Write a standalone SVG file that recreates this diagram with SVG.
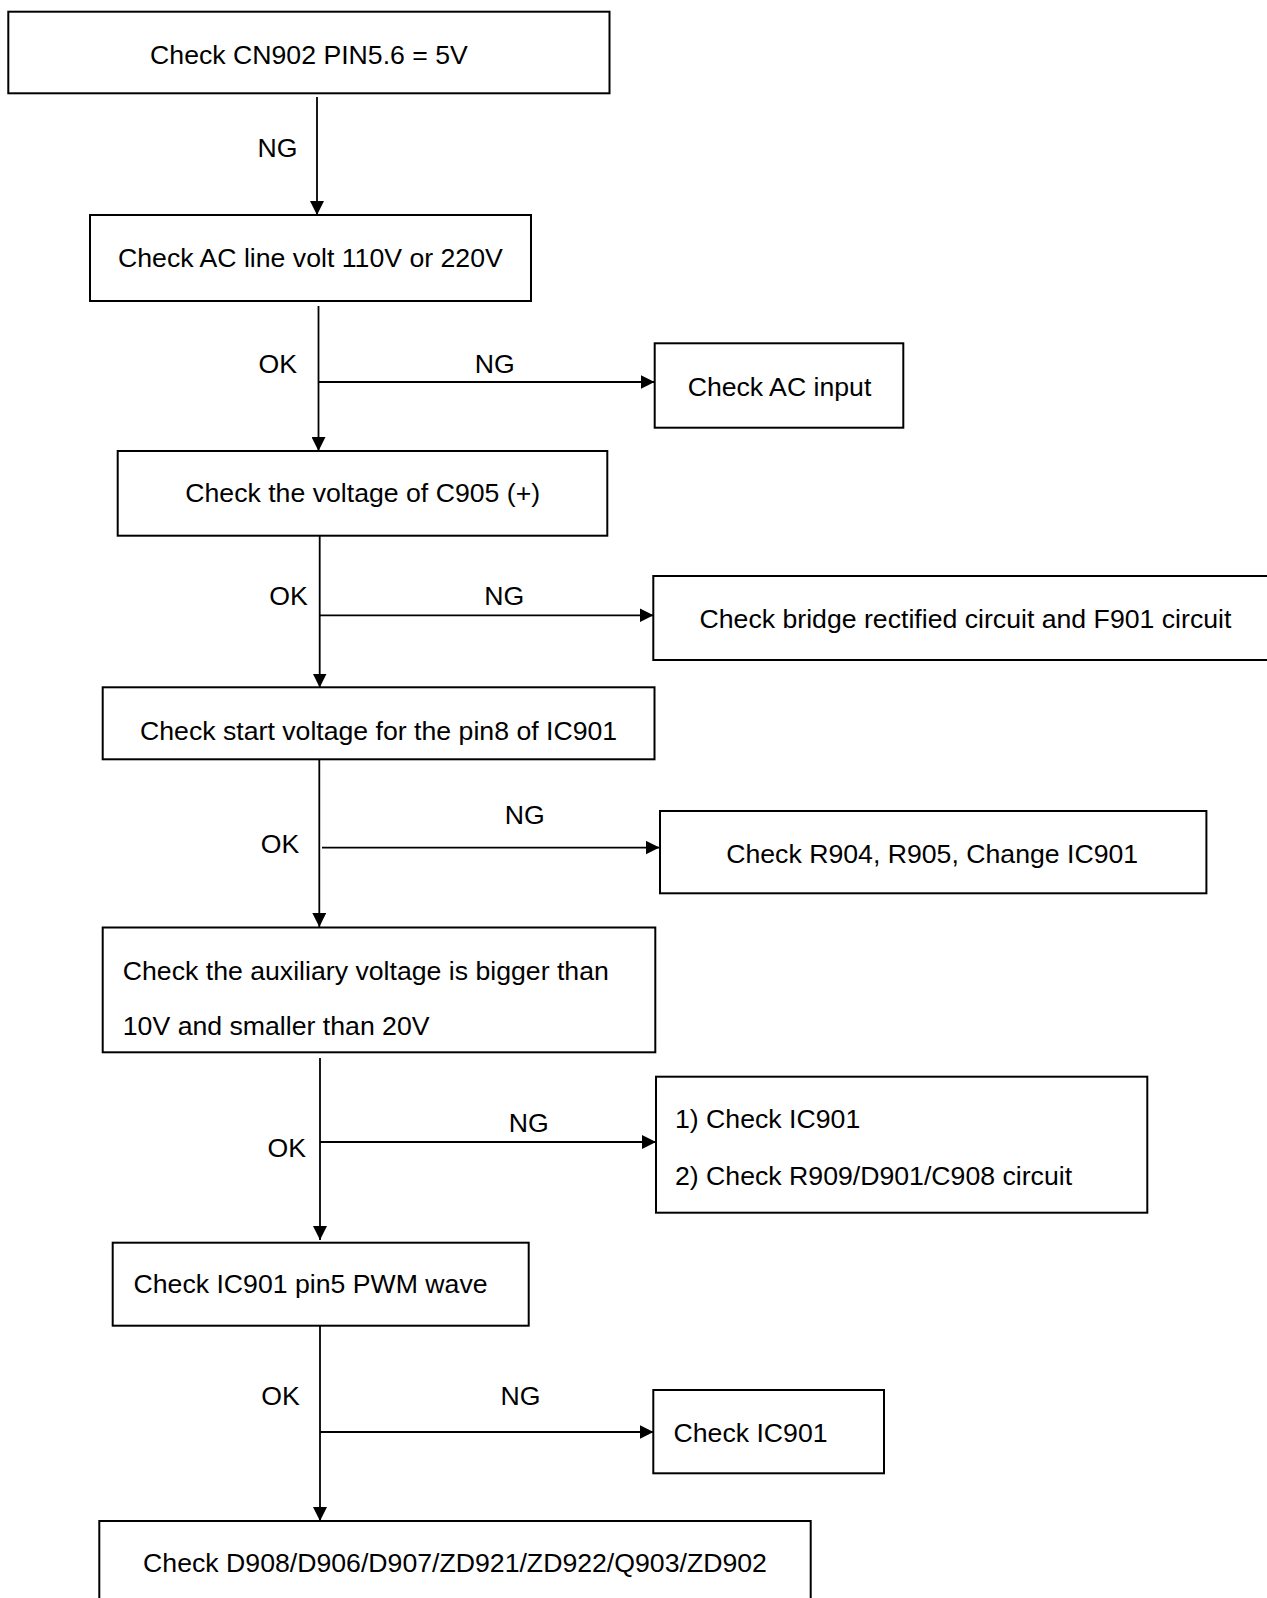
<svg xmlns="http://www.w3.org/2000/svg" width="1267" height="1598" viewBox="0 0 1267 1598">
<style>
.box{fill:#fff;stroke:#000;stroke-width:2}
.t{font-family:"Liberation Sans",Arial,sans-serif;font-size:26.67px;fill:#000}
.c{text-anchor:middle}
.ln{fill:none;stroke:#000;stroke-width:1.8}
</style>
<defs>
<marker id="ah" markerUnits="userSpaceOnUse" markerWidth="14" markerHeight="14" refX="14" refY="7" orient="auto">
<path d="M0,0 L14,7 L0,14 z" fill="#000"/>
</marker>
</defs>
<rect width="1267" height="1598" fill="#fff"/>
<g id="connectors">
<line class="ln" x1="317" y1="97" x2="317" y2="215" marker-end="url(#ah)"/>
<line class="ln" x1="318.5" y1="306" x2="318.5" y2="451" marker-end="url(#ah)"/>
<line class="ln" x1="318.5" y1="382" x2="654.5" y2="382" marker-end="url(#ah)"/>
<line class="ln" x1="319.7" y1="536" x2="319.7" y2="687.5" marker-end="url(#ah)"/>
<line class="ln" x1="319.7" y1="615.3" x2="653.5" y2="615.3" marker-end="url(#ah)"/>
<line class="ln" x1="319.3" y1="759" x2="319.3" y2="927" marker-end="url(#ah)"/>
<line class="ln" x1="322" y1="847.6" x2="659.5" y2="847.6" marker-end="url(#ah)"/>
<line class="ln" x1="320" y1="1058" x2="320" y2="1240" marker-end="url(#ah)"/>
<line class="ln" x1="320" y1="1142" x2="656" y2="1142" marker-end="url(#ah)"/>
<line class="ln" x1="320" y1="1326" x2="320" y2="1521" marker-end="url(#ah)"/>
<line class="ln" x1="320" y1="1432" x2="653.5" y2="1432" marker-end="url(#ah)"/>
<text class="t" x="257.5" y="156.7">NG</text>
<text class="t" x="258.5" y="372.7">OK</text>
<text class="t" x="474.8" y="372.7">NG</text>
<text class="t" x="269.2" y="605">OK</text>
<text class="t" x="484.2" y="605">NG</text>
<text class="t" x="260.8" y="852.7">OK</text>
<text class="t" x="504.8" y="824.3">NG</text>
<text class="t" x="267.5" y="1156.8">OK</text>
<text class="t" x="508.8" y="1132">NG</text>
<text class="t" x="261.2" y="1405">OK</text>
<text class="t" x="500.5" y="1405">NG</text>
</g>
<g id="n1">
<rect class="box" x="8.3" y="11.7" width="601.2" height="81.6"/>
<text class="t c" x="309" y="64">Check CN902 PIN5.6 = 5V</text>
</g>
<g id="n2">
<rect class="box" x="90" y="215" width="441" height="86"/>
<text class="t c" x="310.4" y="266.7">Check AC line volt 110V or 220V</text>
</g>
<g id="n3">
<rect class="box" x="654.7" y="343.3" width="248.6" height="84.4"/>
<text class="t c" x="779.5" y="396">Check AC input</text>
</g>
<g id="n4">
<rect class="box" x="117.7" y="451" width="489.6" height="84.7"/>
<text class="t c" x="362.7" y="501.7">Check the voltage of C905 (+)</text>
</g>
<g id="n5">
<rect class="box" x="653.3" y="576" width="640" height="84"/>
<text class="t" x="699.5" y="628.3">Check bridge rectified circuit and F901 circuit</text>
</g>
<g id="n6">
<rect class="box" x="102.7" y="687.3" width="551.8" height="72"/>
<text class="t c" x="378.6" y="740">Check start voltage for the pin8 of IC901</text>
</g>
<g id="n7">
<rect class="box" x="660" y="811" width="546.4" height="82.3"/>
<text class="t c" x="932.2" y="862.7">Check R904, R905, Change IC901</text>
</g>
<g id="n8">
<rect class="box" x="102.7" y="927.5" width="552.6" height="124.8"/>
<text class="t" x="122.8" y="980">Check the auxiliary voltage is bigger than</text>
<text class="t" x="122.8" y="1035">10V and smaller than 20V</text>
</g>
<g id="n9">
<rect class="box" x="656" y="1076.7" width="491.3" height="136"/>
<text class="t" x="675" y="1128.3">1) Check IC901</text>
<text class="t" x="675" y="1185">2) Check R909/D901/C908 circuit</text>
</g>
<g id="n10">
<rect class="box" x="112.7" y="1242.7" width="416" height="83"/>
<text class="t" x="133.5" y="1293.3">Check IC901 pin5 PWM wave</text>
</g>
<g id="n11">
<rect class="box" x="653.3" y="1390" width="230.7" height="83.3"/>
<text class="t" x="673.5" y="1441.7">Check IC901</text>
</g>
<g id="n12">
<rect class="box" x="99.3" y="1521" width="711.4" height="120"/>
<text class="t c" x="455" y="1572.3">Check D908/D906/D907/ZD921/ZD922/Q903/ZD902</text>
</g>
</svg>
